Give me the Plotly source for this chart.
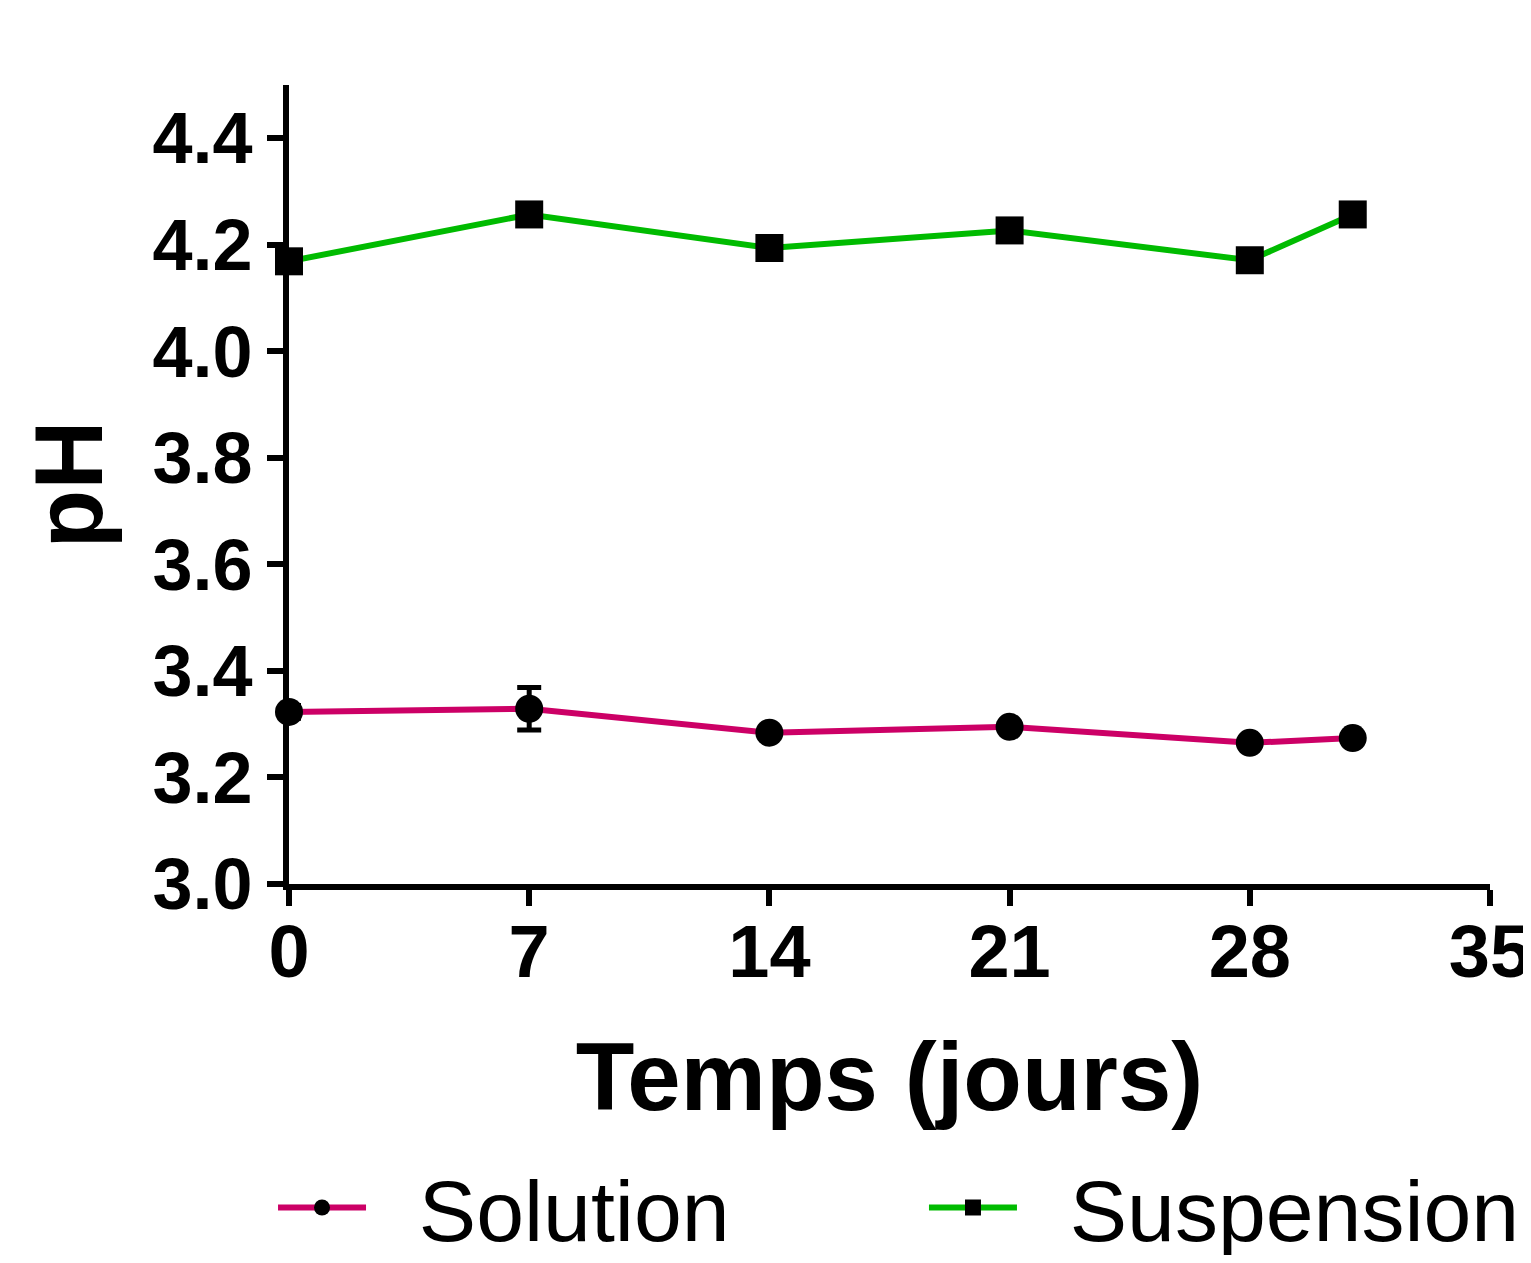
import plotly.graph_objects as go

days = [0, 7, 14, 21, 28, 31]
solution_ph = [3.323, 3.329, 3.284, 3.295, 3.265, 3.274]
solution_err = [0.012, 0.040, 0.006, 0.006, 0.006, 0.006]
suspension_ph = [4.169, 4.257, 4.194, 4.227, 4.171, 4.257]
suspension_err = [0.012, 0.006, 0.006, 0.006, 0.006, 0.006]
x_ticks = [0, 7, 14, 21, 28, 35]
y_ticks = [3.0, 3.2, 3.4, 3.6, 3.8, 4.0, 4.2, 4.4]
series_names = ["Solution", "Suspension"]

FONT = "Liberation Sans, Arial, sans-serif"
GAP = "\u00a0\u00a0"

fig = go.Figure()
fig.add_trace(go.Scatter(
    x=days, y=solution_ph, name=GAP + series_names[0], mode="lines+markers",
    line=dict(color="#CC0066", width=6),
    marker=dict(symbol="circle", size=28, color="black"),
    error_y=dict(type="data", array=solution_err, color="black", thickness=5, width=12),
    cliponaxis=False, legend="legend",
))
fig.add_trace(go.Scatter(
    x=days, y=suspension_ph, name=GAP + series_names[1], mode="lines+markers",
    line=dict(color="#00BB00", width=6),
    marker=dict(symbol="square", size=28, color="black"),
    error_y=dict(type="data", array=suspension_err, color="black", thickness=5, width=12),
    cliponaxis=False, legend="legend2",
))

leg_common = dict(
    orientation="h", yanchor="middle", y=-0.405, xanchor="left",
    font=dict(family=FONT, size=86, color="black"),
    itemsizing="trace", itemwidth=88, bgcolor="rgba(0,0,0,0)",
)
fig.update_layout(
    width=1515, height=1247,
    margin=dict(l=281, r=33, t=77, b=371, autoexpand=False),
    paper_bgcolor="white", plot_bgcolor="white",
    font=dict(family=FONT, color="black"),
    showlegend=True,
    legend=dict(x=-0.0133, **leg_common),
    legend2=dict(x=0.5287, **leg_common),
)
fig.update_xaxes(
    range=[0, 35], tickvals=x_ticks, ticktext=[str(v) for v in x_ticks],
    showline=True, linecolor="black", linewidth=6, showgrid=False, zeroline=False,
    ticks="outside", ticklen=16, tickwidth=6, tickcolor="black",
    tickfont=dict(family=FONT, size=74, weight="bold"), ticklabelstandoff=-18,
    ticklabeloverflow="allow",
    title=dict(text="Temps (jours)", font=dict(family=FONT, size=96, weight="bold"), standoff=53),
)
fig.update_yaxes(
    range=[3.0, 4.5], tickvals=y_ticks, ticktext=[f"{v:.1f}" for v in y_ticks],
    showline=True, linecolor="black", linewidth=6, showgrid=False, zeroline=False,
    ticks="outside", ticklen=16, tickwidth=6, tickcolor="black",
    tickfont=dict(family=FONT, size=72, weight="bold"),
    title=dict(text="pH", font=dict(family=FONT, size=96, weight="bold"), standoff=20),
)

fig.write_html("out.html")
